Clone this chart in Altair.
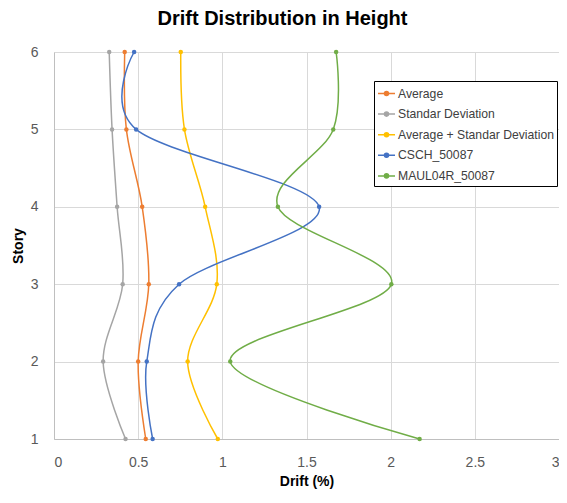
import altair as alt
import pandas as pd

stories = [1, 2, 3, 4, 5, 6]
series_names = ["Average", "Standar Deviation", "Average + Standar Deviation", "CSCH_50087", "MAUL04R_50087"]
average = [0.545, 0.50, 0.563, 0.524, 0.43, 0.42]
std_dev = [0.425, 0.292, 0.408, 0.375, 0.345, 0.328]
avg_plus_sd = [0.973, 0.794, 0.967, 0.898, 0.775, 0.753]
csch = [0.586, 0.551, 0.743, 1.575, 0.488, 0.476]
maul = [2.172, 1.047, 2.004, 1.33, 1.659, 1.676]
colors = ["#ED7D31", "#A5A5A5", "#FFC000", "#4472C4", "#70AD47"]
x_ticks = [0, 0.5, 1, 1.5, 2, 2.5, 3]

rows = []
for name, vals in zip(series_names, [average, std_dev, avg_plus_sd, csch, maul]):
    for s, v in zip(stories, vals):
        rows.append({"series": name, "story": s, "drift": v})
df = pd.DataFrame(rows)

FONT = "Liberation Sans"
sym_path = "M-1,0H1M-0.24,0A0.24,0.24,0,1,1,0.24,0A0.24,0.24,0,1,1,-0.24,0Z"

legend = alt.Legend(
    title=None, orient="none", legendX=320, legendY=29,
    symbolType=sym_path, symbolSize=289, symbolStrokeWidth=1.5,
    labelFont=FONT, labelFontSize=12.2, labelColor="#404040",
    padding=3, rowPadding=4.6, labelOffset=2,
    strokeColor="#000000", fillColor="#FFFFFF", cornerRadius=0,
)

color = alt.Color("series:N", scale=alt.Scale(domain=series_names, range=colors), legend=legend)

x = alt.X("drift:Q", title="Drift (%)",
          scale=alt.Scale(domain=[0, 3], nice=False),
          axis=alt.Axis(values=x_ticks, format=".1~f", labelPadding=16, titlePadding=5))
y = alt.Y("story:Q", title="Story",
          scale=alt.Scale(domain=[1, 6], nice=False, zero=False),
          axis=alt.Axis(values=stories, labelPadding=16, titlePadding=5))

base = alt.Chart(df)
lines = base.mark_line(interpolate="cardinal", tension=0, strokeWidth=1.5).encode(
    x=x, y=y, color=color, order=alt.Order("story:Q"), detail="series:N"
)
points = base.mark_point(filled=True, size=20, opacity=1).encode(
    x=x, y=y, color=color
)

chart = (lines + points).properties(
    width=505, height=387,
    autosize=alt.AutoSizeParams(type="none"),
    padding={"left": 46, "top": 44, "right": 0, "bottom": 55},
    title=alt.TitleParams("Drift Distribution in Height", font=FONT, fontSize=20,
                          fontWeight="bold", color="#000000", dx=-24, offset=16),
).configure_view(stroke=None).configure_axis(
    grid=True, gridColor="#D9D9D9", gridWidth=1, ticks=False,
    domainColor="#BFBFBF", domainWidth=1,
    labelFont=FONT, labelFontSize=14, labelColor="#595959",
    titleFont=FONT, titleFontSize=14, titleFontWeight="bold", titleColor="#000000",
)

chart.save("out.html", embed_options={"renderer": "svg", "actions": False})
